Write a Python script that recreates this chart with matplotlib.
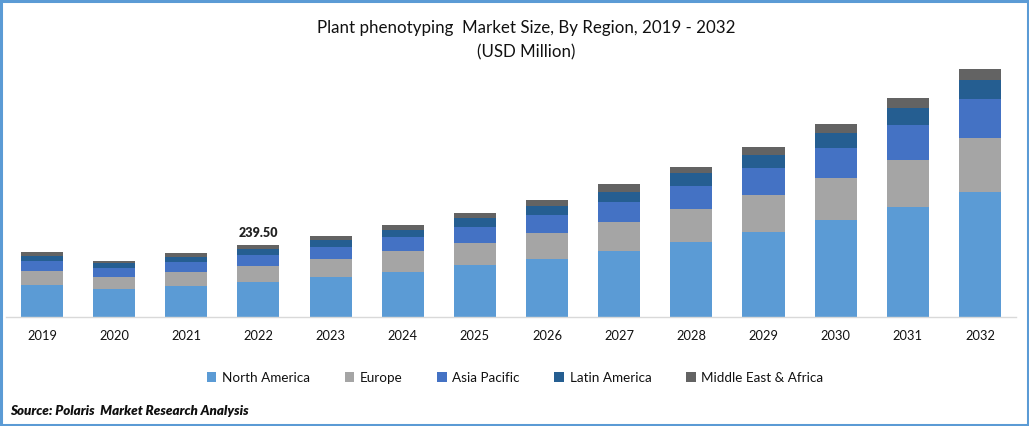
import matplotlib
matplotlib.use("Agg")
import matplotlib.pyplot as plt
import numpy as np
from matplotlib.patches import Rectangle

plt.rcParams["font.family"] = ["Lato", "DejaVu Sans"]

years = ["2019", "2020", "2021", "2022", "2023", "2024", "2025",
         "2026", "2027", "2028", "2029", "2030", "2031", "2032"]
north_america = [106.4, 93.1, 103.1, 116.4, 133.0, 149.7, 173.0, 192.9, 219.5, 249.5, 282.7, 322.6, 365.9, 415.8]
europe = [46.6, 39.9, 46.6, 53.2, 59.9, 69.8, 73.2, 86.5, 96.5, 109.8, 123.1, 139.7, 156.3, 179.6]
asia_pacific = [33.3, 29.9, 33.3, 36.6, 39.9, 46.6, 53.2, 59.9, 66.5, 76.5, 89.8, 99.8, 116.4, 129.7]
latin_america = [16.6, 16.6, 16.6, 20.0, 23.3, 23.3, 29.9, 29.9, 33.3, 43.2, 43.2, 49.9, 56.5, 63.2]
middle_east = [13.3, 6.7, 13.3, 13.3, 13.3, 16.6, 16.6, 20.0, 26.6, 20.0, 26.6, 29.9, 33.3, 36.6]

series = [north_america, europe, asia_pacific, latin_america, middle_east]
names = ["North America", "Europe", "Asia Pacific", "Latin America", "Middle East & Africa"]
colors = ["#5B9BD5", "#A5A5A5", "#4472C4", "#255E91", "#636363"]

W, H = 1029, 426
fig = plt.figure(figsize=(W / 100, H / 100), dpi=100)
ax = fig.add_axes([6 / W, (H - 317) / H, 1010 / W, 257 / H])

x = np.arange(len(years))
bottom = np.zeros(len(years))
for vals, name, col in zip(series, names, colors):
    ax.bar(x, vals, 0.583, bottom=bottom, color=col, label=name)
    bottom += np.array(vals)

ax.set_xlim(-0.499, 13.5)
ax.set_ylim(0, 854.8)
ax.set_xticks(x)
ax.set_xticklabels(years, fontsize=9.3, color="#111111")
ax.tick_params(axis="x", length=0, pad=9)
ax.set_yticks([])
for s in ["top", "left", "right"]:
    ax.spines[s].set_visible(False)
ax.spines["bottom"].set_color("#D9D9D9")
ax.spines["bottom"].set_linewidth(1)

# only 2022 gets a total label
ax.text(3, bottom[3] + 40, "239.50", ha="center", va="center", fontsize=9, fontweight="heavy", color="#222222")

fig.text(526 / W, 1 - 28 / H, "Plant phenotyping  Market Size, By Region, 2019 - 2032",
         ha="center", va="center", fontsize=12.2, color="#111111")
fig.text(526 / W, 1 - 52 / H, "(USD Million)", ha="center", va="center", fontsize=12.2, color="#111111")

ax.legend(loc="center", bbox_to_anchor=(515 / W, 1 - 378 / H), bbox_transform=fig.transFigure,
          ncol=5, frameon=False, fontsize=9.7, handlelength=0.72, handleheight=0.72,
          handletextpad=0.4, columnspacing=2.58, labelcolor="#111111")

fig.text(10 / W, 1 - 411 / H, "Source: Polaris  Market Research Analysis",
         ha="left", va="center", fontsize=9.6, fontweight="heavy", style="italic", color="#111111")

# blue frame round the picture
fig.add_artist(Rectangle((1 / W, 1 / H), (W - 2) / W, (H - 2) / H, transform=fig.transFigure,
                         fill=False, edgecolor="#5B9BD5", linewidth=2.2))

fig.savefig("out.png", dpi=100)
